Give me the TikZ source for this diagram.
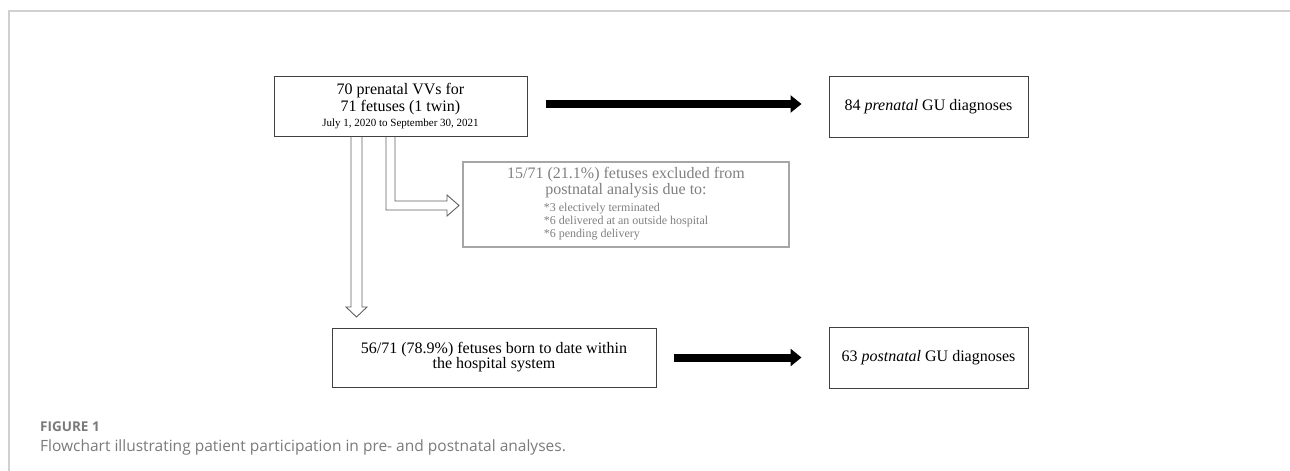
\documentclass[tikz,border=0pt]{standalone}
\usepackage{fontspec}
\setmainfont{Liberation Serif}
\newfontfamily\capfont{Open Sans}
\usetikzlibrary{arrows.meta,calc}
\definecolor{framegray}{HTML}{D0D0D0}
\definecolor{boxline}{HTML}{404040}
\definecolor{exclline}{HTML}{A6A6A6}
\definecolor{excltext}{HTML}{7F7F7F}
\definecolor{hollowline}{HTML}{606060}
\definecolor{captext}{HTML}{7A7A7A}
\begin{document}
\begin{tikzpicture}[x=1pt,y=-1pt,
  box/.style={draw=boxline, line width=1pt, inner sep=0pt, align=center, font=\fontsize{16}{17}\selectfont},
  exclbox/.style={draw=exclline, line width=1.2pt, inner sep=0pt, align=center, text=excltext, font=\fontsize{16}{16}\selectfont},
  bigarrow/.style={line width=8pt, -{Triangle[length=11pt,width=17pt]}},
  hollow/.style={draw=hollowline, line width=0.9pt, line join=miter},
  frameline/.style={draw=framegray, line width=2pt},
  captitle/.style={anchor=base west, inner sep=0pt, text=captext, font=\capfont\bfseries\fontsize{13.5}{15}\selectfont},
  captext/.style={anchor=base west, inner sep=0pt, text=captext, font=\capfont\fontsize{15.5}{18}\selectfont},
]
\useasboundingbox (0,0) rectangle (1290,471);
\draw[frameline] (9,471) -- (9,11) -- (1290,11);

\node[box, minimum width=253pt, minimum height=60pt] (top) at (400.5,106)
  {70 prenatal VVs for\\71 fetuses (1 twin)\\[-2pt]{\fontsize{11}{12}\selectfont July 1, 2020 to September 30, 2021}};
\node[box, minimum width=199pt, minimum height=61pt] (topR) at (928.5,106.5)
  {84 \textit{prenatal} GU diagnoses};
\node[exclbox, minimum width=326pt, minimum height=85pt] (excl) at (626,204.5)
  {15/71 (21.1\%) fetuses excluded from\\postnatal analysis due to:\\[1pt]{\fontsize{12}{13}\selectfont\begin{tabular}[t]{@{}l@{}}{*}3 electively terminated\\{*}6 delivered at an outside hospital\\{*}6 pending delivery\end{tabular}}};
\node[box, font=\fontsize{16}{15}\selectfont, minimum width=324pt, minimum height=59pt] (bot) at (494,357.5)
  {56/71 (78.9\%) fetuses born to date within\\the hospital system};
\node[box, minimum width=199pt, minimum height=61pt] (botR) at (928.5,357.5)
  {63 \textit{postnatal} GU diagnoses};

\draw[bigarrow, shorten <=18pt, shorten >=27pt] ([yshift=2pt]top.east) -- ([yshift=2pt]top.east -| topR.west);
\draw[bigarrow, shorten <=17pt, shorten >=27pt] (bot.east) -- (botR.west);

\draw[hollow] (351,0 |- top.south) -- (351,307) -- (346,307) -- (356.5,317) -- (367,307) -- (362,307) -- (362,0 |- top.south);
\draw[hollow] (386,0 |- top.south) -- (386,210) -- (447,210) -- (447,216) -- (459,205.5) -- (447,195) -- (447,201) -- (395,201) -- (395,0 |- top.south);

\node[captitle] (figlabel) at (40,431) {FIGURE 1};
\node[captext] (caption) at (40,451) {Flowchart illustrating patient participation in pre- and postnatal analyses.};
\end{tikzpicture}
\end{document}
